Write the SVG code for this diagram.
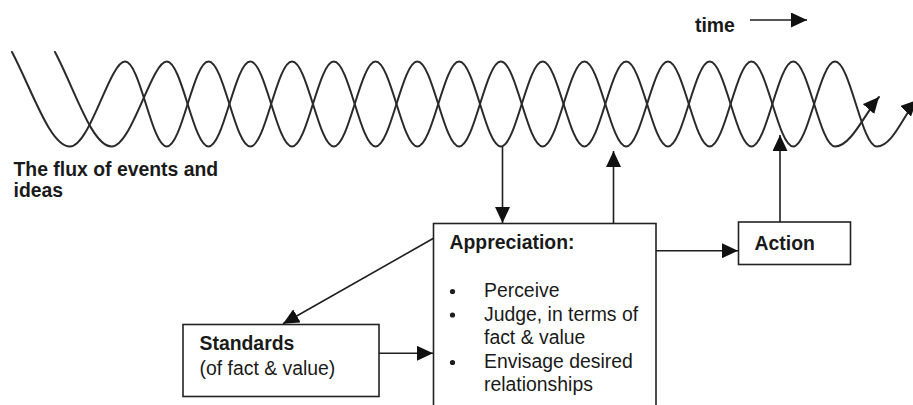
<svg xmlns="http://www.w3.org/2000/svg" width="913" height="405" viewBox="0 0 913 405">
<style>
text{font-family:"Liberation Sans",Arial,sans-serif;font-size:19.4px;fill:#1a1a1a}
.b{font-weight:bold}
.box{fill:#fff;stroke:#222;stroke-width:1.6}
.wave{fill:none;stroke:#2a2a2a;stroke-width:2;stroke-linecap:round}
.con{fill:none;stroke:#1e1e1e;stroke-width:1.6}
</style>
<defs>
<marker id="ah" markerUnits="userSpaceOnUse" markerWidth="16" markerHeight="15" refX="16" refY="7.5" orient="auto" viewBox="0 0 16 15">
<path d="M0,0 L16,7.5 L0,15 z" fill="#111"/>
</marker>
</defs>
<rect width="913" height="405" fill="#fff"/>
<g id="flux">
<path class="wave" marker-end="url(#ah)" d="M 12 52 C 32 90 50 146.5 70 146.5 C 90 146.5 109.8 61.5 125 61.5 s 26.565 85 41.765 85 s 26.565 -85 41.765 -85 s 26.565 85 41.765 85 s 26.565 -85 41.765 -85 s 26.565 85 41.765 85 s 26.565 -85 41.765 -85 s 26.565 85 41.765 85 s 26.565 -85 41.765 -85 s 26.565 85 41.765 85 s 26.565 -85 41.765 -85 s 26.565 85 41.765 85 s 26.565 -85 41.765 -85 s 26.565 85 41.765 85 s 26.565 -85 41.765 -85 s 26.565 85 41.765 85 s 26.565 -85 41.765 -85 s 26.565 85 41.765 85 C 851 146.5 866 112 879 97"/>
<path class="wave" marker-end="url(#ah)" d="M 55 52 C 75 90 92 146.5 111.7 146.5 C 131.7 146.5 151.6 61.5 166.765 61.5 s 26.565 85 41.765 85 s 26.565 -85 41.765 -85 s 26.565 85 41.765 85 s 26.565 -85 41.765 -85 s 26.565 85 41.765 85 s 26.565 -85 41.765 -85 s 26.565 85 41.765 85 s 26.565 -85 41.765 -85 s 26.565 85 41.765 85 s 26.565 -85 41.765 -85 s 26.565 85 41.765 85 s 26.565 -85 41.765 -85 s 26.565 85 41.765 85 s 26.565 -85 41.765 -85 s 26.565 85 41.765 85 s 26.565 -85 41.765 -85 s 26.565 85 41.765 85 C 893 146.5 905 112 917 100"/>
<text class="b" x="13.5" y="176">The flux of events and</text>
<text class="b" x="13.5" y="197">ideas</text>
</g>
<g id="time">
<text class="b" x="695" y="31.5">time</text>
</g>
<g id="appreciation">
<rect class="box" x="433.5" y="223.5" width="222.5" height="200"/>
<text class="b" x="449.5" y="249">Appreciation:</text>
<circle cx="452.5" cy="291.5" r="2.6" fill="#1e1e1e"/>
<text x="484" y="297">Perceive</text>
<circle cx="452.5" cy="315" r="2.6" fill="#1e1e1e"/>
<text x="484" y="320.5">Judge, in terms of</text>
<text x="484" y="343.5">fact &amp; value</text>
<circle cx="452.5" cy="362.5" r="2.6" fill="#1e1e1e"/>
<text x="484" y="368">Envisage desired</text>
<text x="484" y="390.5">relationships</text>
</g>
<g id="action">
<rect class="box" x="738.5" y="222" width="112" height="42.5"/>
<text class="b" x="754.5" y="249.5">Action</text>
</g>
<g id="standards">
<rect class="box" x="183" y="324.5" width="196" height="72"/>
<text class="b" x="199.5" y="350">Standards</text>
<text x="199.5" y="375">(of fact &amp; value)</text>
</g>
<g id="connectors">
<line class="con" x1="750" y1="20" x2="807" y2="20" marker-end="url(#ah)"/>
<line class="con" x1="502.5" y1="147" x2="502.5" y2="223" marker-end="url(#ah)"/>
<line class="con" x1="613.5" y1="223.5" x2="613.5" y2="151" marker-end="url(#ah)"/>
<line class="con" x1="780" y1="222" x2="780" y2="135" marker-end="url(#ah)"/>
<line class="con" x1="656" y1="250.7" x2="738" y2="250.7" marker-end="url(#ah)"/>
<line class="con" x1="433.5" y1="238.3" x2="283" y2="323.8" marker-end="url(#ah)"/>
<line class="con" x1="379" y1="353.3" x2="433" y2="353.3" marker-end="url(#ah)"/>
</g>
</svg>
